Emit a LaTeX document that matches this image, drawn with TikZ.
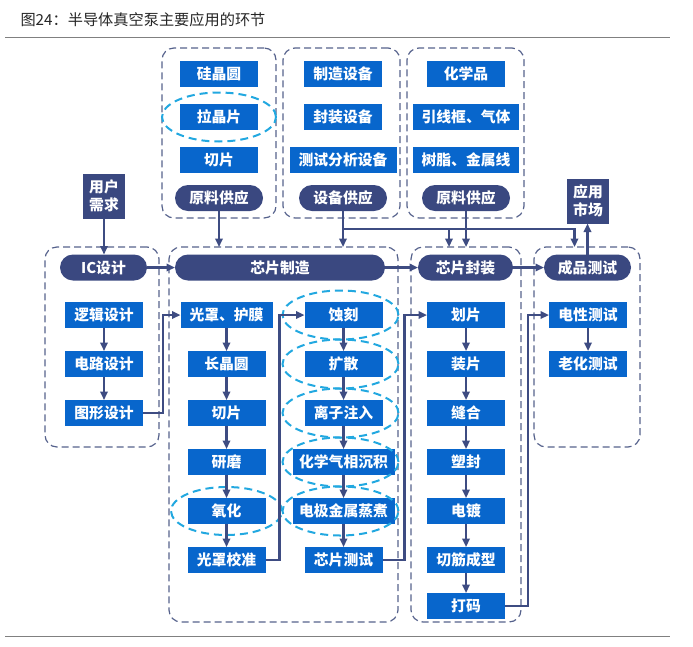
\documentclass[tikz,border=0pt]{standalone}
\usepackage{fontspec}
\setmainfont{Noto Sans CJK SC}
\usetikzlibrary{positioning,arrows.meta,calc}

\definecolor{boxblue}{RGB}{8,102,204}
\definecolor{pillnavy}{RGB}{58,72,128}
\definecolor{linenavy}{RGB}{62,76,130}
\definecolor{grpgray}{RGB}{86,98,140}
\definecolor{ringcyan}{RGB}{34,168,224}

\newcommand{\stepfont}{\bfseries\fontsize{14.8}{18}\selectfont}

\tikzset{
  stepbox/.style={rectangle, fill=boxblue, text=white, font=\stepfont,
    minimum width=78pt, minimum height=26pt, inner sep=0pt, outer sep=0pt},
  pillbox/.style={rectangle, rounded corners=13pt, fill=pillnavy, text=white,
    font=\stepfont, minimum height=26pt, inner sep=0pt, outer sep=0pt},
  endbox/.style={rectangle, fill=pillnavy, text=white, font=\stepfont, align=center,
    minimum width=42pt, minimum height=45pt, inner sep=0pt, outer sep=0pt},
  groupbox/.style={rectangle, draw=grpgray, line width=1.2pt, dash pattern=on 7pt off 4pt,
    rounded corners=12pt, anchor=north west, inner sep=0pt, outer sep=0pt},
  ring/.style={draw=ringcyan, line width=2pt, dash pattern=on 8pt off 5pt},
  flow/.style={draw=linenavy, line width=2.2pt, -{Triangle[length=8.5pt,width=7.5pt]}}
}

\begin{document}
\begin{tikzpicture}[x=1pt, y=-1pt]
    \useasboundingbox (0,0) rectangle (693,646);

    % Title and rules
    \node[anchor=west, font=\fontsize{15.2}{17}\selectfont, text=black!85] (title) at (17,20)
        {图24：半导体真空泵主要应用的环节};
    \draw[black!50, line width=1pt] (5,37) -- (670,37);
    \draw[black!50, line width=1pt] (5,636) -- (670,636);

    % Supply groups
    \node[groupbox, minimum width=114pt, minimum height=170pt] (gwafer) at (162,48) {};
    \node[groupbox, minimum width=117pt, minimum height=170pt] (gequip) at (283,48) {};
    \node[groupbox, minimum width=117pt, minimum height=170pt] (gmat) at (407,48) {};

    \node[stepbox] (guijing) at (219,74) {硅晶圆};
    \node[stepbox, below=17pt of guijing] (lajing) {拉晶片};
    \node[stepbox, below=17pt of lajing] (qiepianA) {切片};
    \node[pillbox, minimum width=88pt, below=12pt of qiepianA] (yuanliaoA) {原料供应};

    \node[stepbox] (zhizao) at (343,74) {制造设备};
    \node[stepbox, below=17pt of zhizao] (fengzhuangSB) {封装设备};
    \node[stepbox, minimum width=107pt, below=17pt of fengzhuangSB] (ceshiSB) {测试分析设备};
    \node[pillbox, minimum width=88pt, below=12pt of ceshiSB] (shebei) {设备供应};

    \node[stepbox] (huaxue) at (466,74) {化学品};
    \node[stepbox, minimum width=106pt, below=17pt of huaxue] (yinxian) {引线框、气体};
    \node[stepbox, minimum width=106pt, below=17pt of yinxian] (shuzhi) {树脂、金属线};
    \node[pillbox, minimum width=88pt, below=12pt of shuzhi] (yuanliaoB) {原料供应};

    % Demand and market
    \node[endbox] (yonghu) at (104,196) {用户\\需求};
    \node[endbox] (shichang) at (588,201) {应用\\市场};

    % Process groups
    \node[groupbox, minimum width=114pt, minimum height=200pt] (gic) at (45,247) {};
    \node[groupbox, minimum width=229pt, minimum height=375pt] (gfab) at (169,247) {};
    \node[groupbox, minimum width=110pt, minimum height=375pt] (gpack) at (411,247) {};
    \node[groupbox, minimum width=106pt, minimum height=200pt] (gtest) at (534,247) {};

    \node[pillbox, minimum width=87pt] (icdesign) at (103.5,267.5) {IC设计};
    \node[pillbox, minimum width=210pt] (fab) at (280,267.5) {芯片制造};
    \node[pillbox, minimum width=95pt] (pack) at (465.5,267.5) {芯片封装};
    \node[pillbox, minimum width=87pt] (test) at (587.5,267.5) {成品测试};

    % IC design column
    \node[stepbox] (luoji) at (104,315) {逻辑设计};
    \node[stepbox, below=23pt of luoji] (dianlu) {电路设计};
    \node[stepbox, below=23pt of dianlu] (tuxing) {图形设计};

    % Fab columns
    \node[stepbox, minimum width=92pt] (guangzhao) at (226.5,315) {光罩、护膜};
    \node[stepbox, below=23pt of guangzhao] (zhangjing) {长晶圆};
    \node[stepbox, below=23pt of zhangjing] (qiepianB) {切片};
    \node[stepbox, below=23pt of qiepianB] (yanmo) {研磨};
    \node[stepbox, below=23pt of yanmo] (yanghua) {氧化};
    \node[stepbox, below=23pt of yanghua] (jiaozhun) {光罩校准};

    \node[stepbox] (shike) at (343.5,315) {蚀刻};
    \node[stepbox, below=23pt of shike] (kuosan) {扩散};
    \node[stepbox, below=23pt of kuosan] (zhuru) {离子注入};
    \node[stepbox, minimum width=102pt, below=23pt of zhuru] (chenji) {化学气相沉积};
    \node[stepbox, minimum width=102pt, below=23pt of chenji] (zhengzhu) {电极金属蒸煮};
    \node[stepbox, below=23pt of zhengzhu] (xinpian) {芯片测试};

    % Packaging column
    \node[stepbox] (huapian) at (466,315) {划片};
    \node[stepbox, below=23pt of huapian] (zhuangpian) {装片};
    \node[stepbox, below=23pt of zhuangpian] (fenghe) {缝合};
    \node[stepbox, below=23pt of fenghe] (suofeng) {塑封};
    \node[stepbox, below=23pt of suofeng] (diandu) {电镀};
    \node[stepbox, below=23pt of diandu] (qiejin) {切筋成型};
    \node[stepbox, below=20pt of qiejin] (dama) {打码};

    % Final test column
    \node[stepbox] (dianxing) at (588,315) {电性测试};
    \node[stepbox, below=23pt of dianxing] (laohua) {老化测试};

    % Vacuum pump marks
    \draw[ring] (lajing) ellipse [x radius=57pt, y radius=24.5pt];
    \draw[ring] (yanghua) ellipse [x radius=55.5pt, y radius=24pt];
    \foreach \n in {shike,kuosan,zhuru,chenji,zhengzhu}
        \draw[ring] ([xshift=-3pt]\n.center) ellipse [x radius=58pt, y radius=24.5pt];

    % Main flow
    \draw[flow] (yonghu.south) -- (yonghu.south |- icdesign.north);
    \draw[flow] (icdesign.east) -- (fab.west);
    \draw[flow] (fab.east) -- (pack.west);
    \draw[flow] (pack.east) -- (test.west);
    \draw[flow] (test.north) -- (test.north |- shichang.south);

    % Supply arrows
    \draw[flow] (yuanliaoA.south) -- (yuanliaoA.south |- gfab.north);
    \draw[flow] (shebei.south) -- (shebei.south |- gfab.north);
    \coordinate[below=18pt of shebei.south] (fork);
    \coordinate (packin) at ($(gpack.north -| yuanliaoB.south)+(-17pt,0)$);
    \coordinate (testin) at ($(gtest.north -| test.north)+(-13pt,0)$);
    \draw[flow] (fork) -| (testin);
    \draw[flow] (packin |- fork) -- (packin);
    \draw[flow] (yuanliaoB.south) -- (yuanliaoB.south |- gpack.north);

    % Steps inside each stage
    \foreach \a/\b in {luoji/dianlu, dianlu/tuxing,
        guangzhao/zhangjing, zhangjing/qiepianB, qiepianB/yanmo, yanmo/yanghua, yanghua/jiaozhun,
        shike/kuosan, kuosan/zhuru, zhuru/chenji, chenji/zhengzhu, zhengzhu/xinpian,
        huapian/zhuangpian, zhuangpian/fenghe, fenghe/suofeng, suofeng/diandu, diandu/qiejin, qiejin/dama,
        dianxing/laohua}
        \draw[flow] (\a) -- (\b);

    % Hand-over between columns
    \draw[flow] (tuxing.east) -- ++(20pt,0) |- (guangzhao.west);
    \draw[flow] (jiaozhun.east) -- ++(14pt,0) |- (shike.west);
    \draw[flow] (xinpian.east) -- ++(22pt,0) |- (huapian.west);
    \draw[flow] (dama.east) -- ++(23pt,0) |- (dianxing.west);
\end{tikzpicture}
\end{document}
